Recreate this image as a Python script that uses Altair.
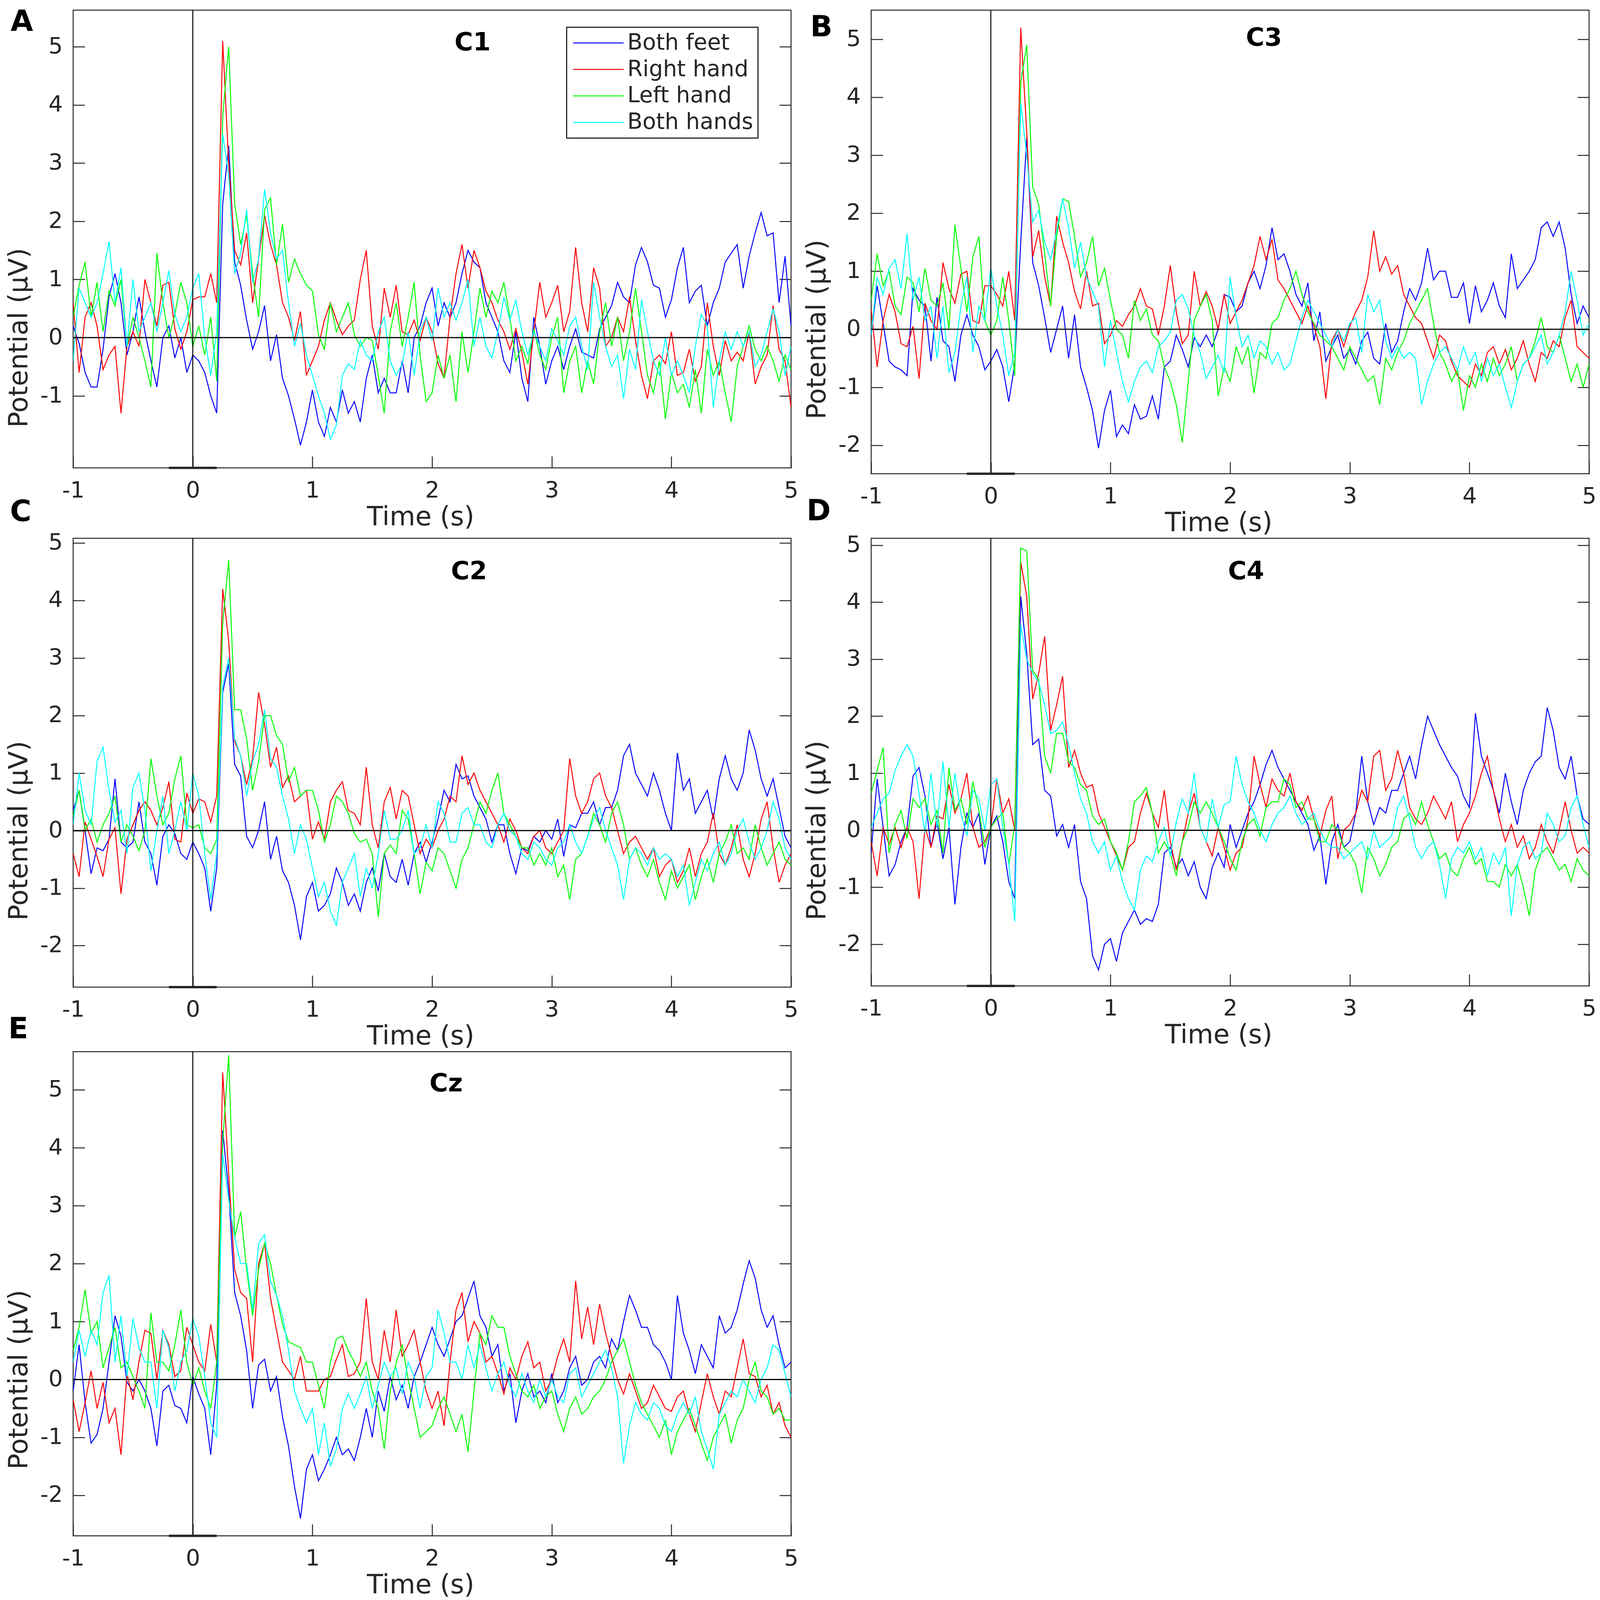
import altair as alt
import pandas as pd

# ---------------- data ----------------
times = [round(-1.0 + 0.05 * i, 2) for i in range(121)]
x_ticks = [-1, 0, 1, 2, 3, 4, 5]
x_domain = [-1, 5]
series_names = ["Both feet", "Right hand", "Left hand", "Both hands"]
series_colors = ["#0000FF", "#FF0000", "#00FF00", "#00FFFF"]
onset = [0]
baseline_window = [-0.2, 0.2]

# Panel A - C1
c1_feet = [0.2, -0.1, -0.6, -0.85, -0.85, -0.2, 0.7, 1.1, 0.6, -0.3, 0.1, 0.7, 0.1, -0.4, -0.85, 0.0, 0.2, -0.35, 0.0, -0.6,
           -0.3, -0.4, -0.6, -1.0, -1.3, 2.3, 3.3, 1.3, 0.9, 0.3, -0.2, 0.1, 0.55, -0.4, 0.05, -0.7, -1.0, -1.4, -1.85, -1.45,
           -0.9, -1.45, -1.7, -1.2, -1.45, -0.9, -1.3, -1.1, -1.45, -0.7, -0.3, -0.95, -0.7, -0.95, -0.95, -0.4, -0.95, 0.0, 0.2, 0.6,
           0.85, 0.2, 0.6, 0.35, 0.6, 1.1, 1.5, 1.3, 1.2, 0.6, 0.35, 0.1, -0.4, -0.6, 0.1, -0.7, -1.1, 0.35, -0.15, -0.8,
           -0.4, -0.15, -0.55, -0.15, 0.15, -0.25, -0.3, -0.35, 0.15, 0.35, 0.55, 0.95, 0.7, 0.6, 1.25, 1.55, 1.3, 0.9, 0.85, 0.35,
           0.65, 1.2, 1.55, 0.6, 0.8, 0.9, 0.2, 0.6, 0.85, 1.3, 1.45, 1.6, 0.85, 1.4, 1.8, 2.15, 1.75, 1.8, 0.6, 1.4,
           0.2]
c1_right = [0.6, -0.6, 0.35, 0.6, 0.2, -0.55, -0.3, -0.15, -1.3, -0.15, 0.1, -0.15, 1.0, 0.6, 0.2, 0.9, 0.95, 0.15, -0.2, 0.1,
            0.65, 0.7, 0.7, 1.1, 0.6, 5.1, 3.0, 1.5, 1.25, 1.8, 0.6, 1.35, 2.1, 1.6, 1.25, 0.6, 0.35, -0.05, 0.45, -0.65,
            -0.4, -0.15, 0.3, 0.6, 0.3, 0.05, 0.2, 0.3, 1.0, 1.5, 0.2, -0.2, 0.85, 0.35, 0.9, 0.1, 0.05, 0.3, -0.05, 0.35,
            0.1, -0.45, -0.7, 0.35, 1.1, 1.6, 0.85, 1.5, 1.2, 0.8, 0.6, 0.3, 0.1, -0.2, 0.15, -0.25, -0.8, 0.1, 0.95, 0.35,
            0.6, 0.9, 0.1, 0.45, 1.55, 0.6, 0.1, 1.2, 0.85, -0.15, 0.0, 0.35, 0.1, 0.7, -0.05, -0.65, -1.05, -0.4, -0.3, -0.45,
            0.1, -0.65, -0.6, -0.2, -0.75, -0.5, 0.6, -0.15, -0.65, -0.05, -0.4, -0.25, -0.4, 0.1, -0.8, -0.5, -0.3, 0.55, -0.2, -0.4,
            -1.2]
c1_left = [0.35, 0.9, 1.3, 0.35, 0.95, 0.1, 0.8, 0.55, 1.0, -0.15, 0.35, 0.0, -0.4, -0.85, 1.45, 0.6, 0.0, 0.4, 0.95, 0.6,
           -0.15, 0.2, -0.3, 0.35, -0.75, 3.8, 5.0, 2.3, 1.6, 2.1, 1.1, 0.35, 2.2, 2.4, 1.25, 1.95, 0.95, 1.35, 1.1, 0.9,
           0.8, 0.05, -0.2, 0.6, 0.1, 0.35, 0.6, 0.05, -0.15, 0.0, -0.05, -0.65, -1.3, 0.1, 0.6, -0.15, 0.35, 0.95, -0.3, -1.1,
           -0.95, -0.3, -0.7, -0.3, -1.1, 0.1, -0.6, 0.1, 0.85, 0.35, 0.8, 0.6, 0.95, 0.35, -0.4, -0.15, -0.45, 0.15, -0.3, -0.55,
           0.0, 0.35, -0.95, -0.4, -0.15, -0.95, -0.4, -0.8, 0.1, 0.6, -0.15, 0.35, -0.4, 0.1, 0.85, 0.1, -0.65, -0.95, -0.4, -1.4,
           -0.6, -0.95, -0.8, -1.2, -0.55, -1.3, -0.2, -0.65, -0.4, -0.95, -1.45, -0.5, -0.15, 0.2, -0.2, -0.4, -0.15, -0.4, -0.75, -0.3,
           -0.55]
c1_both = [-0.4, 0.85, 0.6, 0.35, 0.6, 1.1, 1.65, 0.6, 1.2, -0.15, 1.0, 0.1, 0.35, 0.6, 0.1, 0.6, 1.15, 0.4, 0.1, 0.35,
           0.85, 1.1, 0.0, -0.65, 0.1, 3.5, 2.8, 1.1, 1.45, 2.2, 0.95, 1.35, 2.55, 1.8, 1.35, 1.5, 0.6, -0.15, 0.25, -0.3,
           -0.65, -1.0, -1.3, -1.75, -1.5, -0.65, -0.45, -0.55, -0.05, -0.3, -0.4, 0.1, 0.35, -0.4, -0.65, -0.45, 0.1, -0.65, 0.1, 0.35,
           -0.05, 0.85, 0.35, 0.6, 0.3, 0.6, 1.0, -0.15, 0.35, -0.15, -0.35, 0.1, 0.7, 0.3, 0.65, 0.1, -0.3, 0.1, -0.15, -0.4,
           0.15, -0.05, -0.3, 0.2, 0.35, -0.15, -0.55, 0.95, 0.35, -0.15, -0.5, -0.3, -1.05, -0.2, -0.55, 0.65, 0.1, -0.4, -0.65, 0.0,
           -0.65, -0.4, -0.65, -0.95, -0.15, 0.4, 0.2, -1.2, -0.4, 0.1, -0.2, 0.1, -0.15, 0.1, -0.5, -0.3, 0.1, 0.5, 0.1, -0.65,
           -0.15]

# Panel B - C3
c3_feet = [-0.1, 0.75, 0.1, -0.55, -0.65, -0.7, -0.8, 0.7, 0.5, 0.4, -0.55, 0.55, -0.2, -0.3, -0.9, -0.1, 0.25, -0.1, -0.3, -0.7,
           -0.55, -0.35, -0.65, -1.25, -0.6, 1.5, 3.3, 1.15, 0.75, 0.2, -0.4, 0.0, 0.4, -0.5, 0.25, -0.65, -1.0, -1.4, -2.05, -1.4,
           -1.05, -1.85, -1.65, -1.8, -1.3, -1.55, -1.5, -1.15, -1.55, -0.65, -0.55, -0.1, -0.35, -0.65, -0.15, -0.3, -0.1, -0.3, 0.0, 0.6,
           0.55, 0.3, 0.4, 0.8, 1.0, 0.7, 1.1, 1.75, 1.2, 1.3, 1.0, 0.6, 0.4, 0.8, -0.2, 0.3, -0.55, -0.3, -0.1, -0.5,
           -0.35, -0.6, -0.2, -0.05, -0.5, -0.6, 0.1, -0.4, -0.2, 0.3, 0.7, 0.5, 0.8, 1.4, 0.85, 1.0, 1.0, 0.55, 0.55, 0.8,
           0.1, 0.75, 0.3, 0.5, 0.8, 0.4, 0.2, 1.3, 0.7, 0.85, 1.0, 1.2, 1.75, 1.85, 1.6, 1.85, 1.4, 0.6, 0.1, 0.4,
           0.2]
c3_right = [0.35, -0.65, 0.15, 0.6, 0.3, -0.25, -0.3, 0.05, -0.85, 0.45, 0.15, 0.0, 1.15, 0.7, 0.45, 0.95, 1.0, 0.15, 0.1, 0.75,
            0.75, 0.6, 0.4, 1.0, 0.15, 5.2, 3.4, 1.25, 1.7, 0.9, 0.4, 1.95, 1.5, 1.15, 0.65, 0.35, 1.0, 0.4, 0.45, -0.25,
            -0.1, 0.15, 0.05, 0.25, 0.4, 0.7, 0.4, 0.35, -0.1, 0.4, 1.1, 0.3, -0.25, -0.1, 1.0, 0.4, 0.65, 0.4, 0.0, 0.6,
            0.1, 0.3, 0.5, 0.8, 1.1, 1.6, 1.2, 1.55, 0.85, 0.7, 0.5, 0.3, 0.1, 0.4, 0.05, -0.3, -1.2, -0.2, 0.0, -0.3,
            0.05, 0.3, 0.5, 0.9, 1.7, 1.0, 1.25, 0.95, 1.1, 0.6, 0.4, 0.2, 0.1, -0.2, -0.5, -0.1, -0.2, -0.55, -0.8, -0.9,
            -1.0, -0.6, -0.8, -0.4, -0.3, -0.6, -0.35, -0.7, -0.5, -0.2, -0.6, -0.9, -0.4, -0.5, -0.2, -0.3, 0.2, 0.5, -0.3, -0.4,
            -0.5]
c3_left = [0.5, 1.3, 0.75, 1.0, 0.4, 0.25, 0.9, 0.8, 0.3, 1.05, 0.5, 0.4, 0.8, 0.0, 1.8, 1.05, 0.3, 1.25, 1.6, 0.15,
           -0.1, 0.15, 0.9, 0.15, -0.8, 4.25, 4.9, 2.45, 2.15, 1.3, 0.4, 1.6, 2.25, 2.2, 1.6, 0.9, 1.15, 1.6, 0.75, 1.05,
           0.5, 0.0, -0.1, -0.5, 0.5, 0.15, 0.35, -0.1, -0.2, -0.65, -0.9, -1.3, -1.95, -0.9, 0.15, 0.4, 0.6, 0.15, -1.15, -0.65,
           -0.9, -0.3, -0.6, -0.3, -1.1, -0.4, -0.5, 0.1, 0.2, 0.5, 0.7, 1.0, 0.6, 0.3, 0.1, -0.1, -0.2, -0.3, -0.5, -0.7,
           -0.3, -0.5, -0.7, -0.9, -0.8, -1.3, -0.5, -0.7, -0.4, -0.2, 0.1, 0.3, 0.5, 0.7, 0.1, -0.4, -0.6, -0.9, -0.7, -1.4,
           -0.8, -1.0, -0.6, -0.9, -0.5, -0.8, -0.6, -0.3, -0.9, -0.6, -0.5, -0.2, 0.2, -0.3, -0.4, -0.1, -0.5, -0.9, -0.6, -1.0,
           -0.6]
c3_both = [-0.1, 0.9, 0.6, 1.05, 1.2, 0.7, 1.65, 0.5, 0.9, 0.15, 0.4, -0.5, 0.4, -0.75, -0.4, 0.4, 0.9, -0.4, 0.4, 0.15,
           1.05, 0.4, -0.1, -0.8, -0.4, 3.9, 3.0, 1.85, 2.05, 1.5, 1.2, 1.7, 2.25, 1.75, 1.05, 1.5, 0.9, 0.65, 0.4, -0.65,
           0.15, -0.4, -0.9, -1.25, -0.9, -0.65, -0.55, -0.75, -0.3, -0.2, -0.05, 0.5, 0.6, 0.35, -0.1, -0.4, -0.85, -0.65, -0.45, -0.75,
           0.9, 0.2, -0.3, -0.1, -0.5, -0.2, -0.3, -0.6, -0.4, -0.7, -0.6, -0.2, 0.2, 0.5, 0.3, 0.1, -0.1, -0.3, 0.0, -0.2,
           0.1, 0.2, -0.4, 0.6, 0.3, 0.5, -0.2, -0.5, -0.3, -0.5, -0.4, -0.5, -1.3, -0.9, -0.6, -0.4, -0.3, -0.5, -0.7, -0.3,
           -0.6, -0.4, -0.9, -0.5, -0.8, -0.6, -1.0, -1.35, -0.9, -0.6, -0.5, -0.3, -0.1, -0.6, -0.4, -0.1, 0.3, 1.0, 0.5, -0.1,
           0.1]

# Panel C - C2
c2_feet = [0.35, 0.7, 0.0, -0.75, -0.3, -0.35, -0.15, 0.9, -0.2, -0.3, -0.2, 0.5, -0.2, -0.4, -0.95, -0.1, 0.1, -0.05, -0.4, -0.5,
           -0.2, -0.4, -0.65, -1.4, -0.65, 2.4, 2.9, 1.15, 0.95, -0.1, -0.3, 0.0, 0.5, -0.5, -0.1, -0.7, -0.9, -1.3, -1.9, -1.15,
           -0.9, -1.4, -1.3, -1.1, -0.65, -0.9, -1.3, -1.1, -1.4, -0.9, -0.65, -1.05, -0.4, -0.8, -0.9, -0.5, -0.95, -0.4, -0.2, -0.55,
           -0.2, 0.2, 0.7, 0.5, 1.15, 0.9, 0.95, 0.6, 0.4, 0.2, -0.2, 0.1, 0.1, -0.4, -0.75, -0.3, -0.35, -0.1, -0.2, 0.0,
           -0.15, 0.2, -0.45, 0.1, 0.05, 0.3, 0.3, 0.5, 0.1, 0.4, 0.4, 0.7, 1.3, 1.5, 1.0, 0.8, 0.6, 1.0, 0.7, 0.3,
           0.0, 1.35, 0.7, 0.9, 0.3, 0.5, 0.7, 0.2, 0.9, 1.3, 0.9, 0.7, 1.0, 1.75, 1.4, 0.9, 0.6, 0.9, 0.4, -0.1,
           -0.3]
c2_right = [-0.4, -0.8, 0.15, -0.15, -0.45, -0.8, -0.15, 0.05, -1.1, -0.15, 0.1, 0.35, 0.5, 0.35, 0.1, 0.4, 0.85, -0.15, -0.2, 0.65,
            0.3, 0.55, 0.5, 0.15, 0.6, 4.2, 3.3, 1.55, 1.3, 0.8, 1.25, 2.4, 1.85, 1.1, 1.45, 0.75, 0.95, 0.5, 0.6, 0.7,
            -0.15, 0.15, -0.15, 0.5, 0.7, 0.85, 0.35, 0.3, 0.1, 1.1, 0.1, -0.3, 0.5, 0.75, 0.2, 0.7, 0.6, 0.1, -0.4, -0.15,
            -0.3, 0.0, 0.2, 0.6, 0.5, 1.3, 0.8, 1.0, 0.7, 0.5, 0.3, 0.1, -0.2, 0.2, 0.0, -0.3, -0.4, -0.1, 0.0, -0.3,
            -0.4, -0.2, 0.0, 1.25, 0.6, 0.3, 0.5, 0.9, 1.0, 0.6, 0.4, 0.0, -0.4, -0.2, -0.1, -0.3, -0.5, -0.3, -0.8, -0.6,
            -0.5, -0.9, -0.7, -0.3, -0.8, -0.4, -0.2, 0.3, -0.4, -0.6, -0.3, 0.1, -0.5, -0.8, -0.4, 0.2, 0.5, -0.3, -0.9, -0.6,
            -0.4]
c2_left = [0.25, 0.7, 0.0, 0.2, -0.2, 0.1, 0.3, 0.6, -0.2, 0.1, -0.1, -0.35, 0.0, 1.25, 0.6, 0.1, 0.3, 0.9, 1.3, 0.1,
           0.05, 0.1, -0.3, -0.4, -0.15, 3.6, 4.7, 2.1, 2.1, 1.6, 0.7, 1.2, 2.0, 2.0, 1.65, 1.5, 0.85, 1.1, 0.6, 0.7,
           0.7, 0.35, -0.2, 0.1, 0.6, 0.5, 0.3, -0.05, -0.2, -0.15, -0.4, -1.5, -0.4, -0.25, -0.4, 0.35, 0.2, -0.4, -1.1, -0.55,
           -0.7, -0.3, -0.4, -0.7, -1.0, -0.5, -0.3, 0.1, 0.5, 0.3, 0.7, 1.0, 0.3, 0.1, -0.1, -0.3, -0.3, -0.6, -0.4, -0.6,
           -0.3, -0.8, -0.6, -1.2, -0.5, -0.4, -0.1, 0.3, 0.1, -0.2, 0.3, 0.5, 0.1, -0.5, -0.3, -0.6, -0.8, -0.5, -0.9, -1.2,
           -0.7, -1.0, -0.8, -0.6, -1.2, -0.8, -0.5, -0.9, -0.4, -0.2, 0.1, -0.4, -0.3, -0.5, 0.1, -0.3, -0.6, -0.4, -0.2, -0.5,
           -0.6]
c2_both = [0.1, 1.0, 0.35, 0.1, 1.2, 1.45, 0.7, 0.15, 0.35, -0.4, 0.75, 1.0, 0.35, -0.7, 0.0, 0.6, -0.4, 0.0, 0.5, 0.0,
           1.0, 0.6, -0.4, -1.2, -0.4, 2.5, 3.0, 1.6, 1.3, 0.6, 1.2, 1.5, 2.1, 1.25, 1.1, 0.6, 0.2, -0.4, 0.1, -0.15,
           -0.65, -1.15, -0.9, -1.4, -1.65, -0.9, -0.65, -0.4, -1.15, -0.65, -1.0, -0.4, 0.35, -0.15, -0.15, 0.0, 0.35, -0.4, -0.3, 0.1,
           -0.3, 0.5, 0.3, -0.2, -0.2, 0.3, 0.4, 0.1, 0.1, -0.2, -0.3, 0.1, 0.3, 0.0, -0.1, -0.4, -0.5, -0.2, -0.3, -0.5,
           -0.6, -0.3, -0.2, 0.1, -0.2, -0.4, -0.1, 0.2, 0.4, 0.0, -0.3, -0.6, -1.2, -0.5, -0.3, -0.4, -0.6, -0.3, -0.5, -0.4,
           -0.5, -0.8, -0.6, -1.3, -0.9, -0.5, -0.7, -0.4, -0.2, -0.6, -0.4, 0.0, 0.2, -0.2, -0.5, -0.3, 0.0, 0.5, 0.2, -0.3,
           -0.5]

# Panel D - C4
c4_feet = [-0.4, 0.9, 0.05, -0.8, -0.6, -0.2, 0.05, 0.95, 1.1, 0.6, -0.3, 0.15, -0.5, 0.05, -1.3, -0.3, 0.3, 0.05, 0.3, -0.6,
           0.05, 0.25, -0.2, -0.9, -1.2, 4.1, 3.1, 1.5, 1.6, 0.7, 0.6, -0.1, 0.1, -0.3, 0.1, -0.9, -1.2, -2.2, -2.45, -2.0,
           -1.9, -2.3, -1.8, -1.6, -1.4, -1.65, -1.55, -1.6, -1.3, -0.4, -0.3, -0.65, -0.5, -0.8, -0.55, -1.0, -1.2, -0.65, -0.4, -0.65,
           0.1, -0.3, 0.0, 0.3, 0.5, 0.8, 1.15, 1.4, 1.1, 0.9, 0.7, 0.5, 0.3, 0.1, -0.35, -0.1, -0.95, -0.2, 0.1, -0.3,
           -0.2, 0.3, 1.3, 0.5, 0.1, 0.4, 0.3, 0.7, 0.7, 1.0, 1.3, 0.9, 1.5, 2.0, 1.75, 1.5, 1.3, 1.1, 0.95, 0.6,
           0.4, 2.05, 1.3, 1.0, 0.7, 0.3, 1.0, 0.5, 0.1, 0.7, 1.0, 1.2, 1.3, 2.15, 1.75, 1.1, 0.9, 1.3, 0.6, 0.2,
           0.1]
c4_right = [-0.2, -0.8, 0.05, -0.25, 0.05, -0.3, 0.05, -0.2, -1.2, 0.05, -0.3, 0.25, 0.2, 0.8, 0.3, 0.55, 1.0, 0.05, -0.3, -0.2,
            0.05, 0.9, 0.3, 0.55, 0.0, 4.7, 4.1, 2.3, 2.75, 3.4, 1.75, 2.2, 2.7, 1.1, 1.4, 1.0, 0.75, 0.8, 0.3, 0.05,
            -0.2, -0.45, -0.7, -0.3, -0.2, 0.3, 0.65, 0.3, 0.05, 0.7, -0.2, -0.7, -0.2, 0.3, 0.65, 0.05, -0.2, -0.45, 0.05, -0.3,
            -0.7, -0.4, -0.3, 0.2, 1.3, 0.8, 0.4, 0.9, 0.7, 0.6, 1.0, 0.5, 0.35, 0.6, 0.2, -0.1, 0.35, 0.6, -0.5, 0.0,
            0.1, 0.3, 0.7, 0.5, 1.3, 1.4, 0.7, 0.9, 1.4, 1.0, 0.4, 0.2, 0.1, 0.3, 0.6, 0.4, 0.2, 0.5, -0.2, 0.1,
            0.3, 0.6, 1.0, 1.3, 0.7, 0.2, -0.2, 0.1, -0.3, -0.1, -0.5, -0.3, 0.1, -0.2, -0.4, 0.0, 0.5, 0.0, -0.4, -0.3,
            -0.4]
c4_left = [0.65, 1.05, 1.45, -0.4, 0.1, 0.35, -0.15, 0.55, 0.4, 0.55, 0.1, 0.35, -0.4, 1.1, 0.35, 0.55, 0.1, 0.85, 0.35, -0.3,
           0.05, 0.2, 0.3, -0.6, 0.1, 4.95, 4.9, 2.8, 2.65, 1.3, 1.0, 1.7, 1.7, 1.2, 1.1, 0.8, 0.7, 0.25, 0.1, 0.2,
           -0.2, -0.4, -0.7, -0.2, 0.5, 0.6, 0.75, 0.3, -0.4, -0.2, -0.4, -0.8, -0.2, 0.05, 0.5, 0.3, 0.5, 0.3, 0.05, -0.2,
           -0.5, -0.7, -0.2, 0.1, 0.2, -0.1, 0.4, 0.5, 0.5, 0.9, 0.8, 0.4, 0.5, 0.2, 0.2, -0.2, -0.2, 0.1, 0.0, -0.3,
           -0.4, -0.6, -1.1, -0.3, -0.5, -0.8, -0.6, -0.3, -0.2, 0.2, 0.3, 0.1, 0.5, 0.1, -0.2, -0.5, -0.4, -0.7, -0.8, -0.5,
           -0.3, -0.6, -0.5, -0.9, -0.9, -1.0, -0.6, -0.8, -0.6, -1.0, -1.5, -0.7, -0.4, -0.3, -0.5, -0.7, -0.6, -0.9, -0.5, -0.7,
           -0.8]
c4_both = [0.05, 0.3, 0.55, 0.65, 1.05, 1.3, 1.5, 1.3, 0.65, -0.05, 1.0, 0.05, 1.2, 0.05, 1.0, 0.3, -0.1, 0.7, 0.55, 0.0,
           0.8, 0.9, 0.05, -0.6, -1.6, 3.6, 3.0, 2.75, 2.6, 2.2, 1.7, 1.75, 1.9, 1.5, 1.0, 0.55, 0.3, -0.2, -0.4, -0.2,
           -0.7, -0.45, -0.9, -1.2, -1.4, -0.7, -0.45, -0.55, -0.2, 0.05, -0.45, 0.15, 0.55, 0.3, 1.0, 0.05, -0.2, 0.55, 0.05, 0.45,
           0.5, 1.3, 0.8, 0.5, 0.3, 0.0, -0.2, 0.1, 0.3, 0.4, 0.6, 0.3, 0.1, 0.2, 0.3, 0.0, -0.2, -0.3, -0.3, -0.5,
           -0.4, -0.3, -0.2, -0.5, 0.0, -0.3, -0.2, -0.1, 0.4, 0.6, 0.2, -0.3, -0.5, -0.3, -0.2, -0.6, -1.2, -0.5, -0.3, -0.4,
           -0.2, -0.5, -0.3, -0.8, -0.4, -0.6, -0.3, -1.5, -0.6, -0.3, -0.2, -0.5, -0.4, 0.3, 0.1, -0.2, -0.1, 0.4, 0.6, 0.1,
           -0.3]

# Panel E - Cz
cz_feet = [-0.2, 0.6, -0.4, -1.1, -0.95, -0.5, 0.3, 1.1, 0.75, -0.05, -0.2, 0.0, -0.2, -0.5, -1.15, -0.2, -0.1, -0.45, -0.5, -0.75,
           0.05, -0.25, -0.5, -1.3, -0.1, 4.3, 3.25, 1.5, 1.1, 0.5, -0.5, 0.25, 0.35, -0.2, 0.05, -0.65, -1.15, -1.85, -2.4, -1.55,
           -1.3, -1.75, -1.55, -1.3, -1.0, -1.3, -1.2, -1.4, -1.0, -0.5, -1.0, -0.2, -0.55, 0.05, -0.35, -0.1, -0.5, 0.05, 0.3, 0.6,
           0.9, 0.6, 0.4, 0.7, 1.0, 1.1, 1.4, 1.7, 1.1, 0.9, 0.4, 0.6, -0.2, 0.1, -0.75, -0.2, 0.1, -0.3, -0.2, -0.4,
           0.1, -0.4, -0.2, 0.2, 0.4, -0.1, 0.0, 0.3, 0.4, 0.2, 0.7, 0.5, 1.0, 1.45, 1.2, 0.9, 0.9, 0.6, 0.5, 0.3,
           0.0, 1.45, 0.8, 0.5, 0.1, 0.6, 0.4, 0.2, 1.1, 0.8, 0.9, 1.2, 1.65, 2.05, 1.75, 1.2, 0.9, 1.1, 0.6, 0.2,
           0.3]
cz_right = [-0.35, -0.9, -0.4, 0.15, -0.5, -0.05, -0.75, -0.5, -1.3, 0.1, -0.35, 0.3, 0.85, 0.8, 0.0, 0.85, 0.6, 0.05, 0.15, 0.9,
            0.6, 0.3, 0.15, 0.95, 0.3, 5.3, 3.55, 1.9, 1.5, 1.4, 0.3, 2.0, 2.35, 1.4, 0.85, 0.3, 0.15, 0.0, 0.4, -0.2,
            -0.2, -0.2, 0.0, 0.05, 0.35, 0.6, 0.05, 0.1, 0.3, 1.4, 0.3, 0.0, 0.85, 0.3, 1.2, 0.4, 0.6, 0.85, 0.3, -0.2,
            -0.5, -0.2, -0.8, 0.3, 1.2, 1.5, 0.65, 1.0, 0.8, 0.3, 0.4, 0.1, -0.25, 0.2, 0.0, 0.4, 0.65, 0.2, 0.3, -0.2,
            0.0, 0.4, 0.7, 0.3, 1.7, 0.7, 1.25, 0.6, 1.3, 0.8, 0.4, 0.0, -0.25, 0.1, -0.2, -0.5, -0.4, -0.1, -0.3, -0.5,
            -0.55, -0.3, -0.2, -0.6, -0.9, -0.4, 0.1, -0.3, -0.6, -0.2, -0.3, 0.2, 0.7, 0.1, 0.05, -0.3, -0.1, -0.6, -0.4, -0.8,
            -1.0]
cz_left = [0.5, 0.9, 1.55, 0.8, 1.0, 0.2, 0.55, 0.9, 0.2, 0.3, 0.05, -0.2, -0.5, 1.15, 0.3, 0.3, 0.15, 0.6, 1.2, 0.3,
           -0.1, 0.2, -0.2, -0.5, 0.3, 4.1, 5.6, 2.45, 2.9, 1.9, 1.1, 1.9, 2.35, 2.0, 1.45, 0.95, 0.65, 0.6, 0.55, 0.3,
           0.3, -0.1, -0.5, 0.3, 0.7, 0.75, 0.5, 0.3, 0.05, 0.3, -0.2, -0.5, -1.2, -0.2, 0.3, 0.6, 0.0, -0.5, -1.0, -0.9,
           -0.8, -0.5, -0.3, -0.6, -0.9, -0.6, -1.25, -0.2, 0.8, 0.6, 1.1, 0.9, 0.9, 0.4, 0.1, -0.2, -0.3, -0.1, -0.5, -0.3,
           -0.2, -0.6, -0.9, -0.5, -0.3, -0.6, -0.5, -0.3, -0.2, 0.0, 0.3, 0.5, 0.7, 0.3, -0.1, -0.4, -0.6, -0.8, -1.0, -0.7,
           -1.3, -0.9, -0.7, -0.5, -0.8, -1.1, -1.4, -1.0, -0.8, -0.6, -1.1, -0.7, -0.5, 0.0, 0.3, -0.2, -0.3, -0.6, -0.5, -0.7,
           -0.7]
cz_both = [0.3, 0.85, 0.4, 0.85, 0.6, 1.5, 1.8, 0.3, 1.1, 0.05, 1.05, 0.55, 0.3, 0.3, -0.5, 0.85, 0.55, -0.2, 0.3, 0.5,
           1.05, 0.75, 0.05, -0.75, -1.0, 3.9, 3.1, 2.45, 2.0, 2.0, 1.2, 2.35, 2.5, 1.7, 1.45, 1.1, 0.5, -0.2, -0.5, -0.75,
           -0.5, -1.3, -0.75, -1.5, -1.2, -0.5, -0.25, -0.5, -0.25, 0.05, -0.5, -0.1, 0.3, 0.05, 0.2, -0.25, 0.3, 0.05, -0.5, 0.05,
           0.2, 1.2, 0.8, 0.3, 0.3, 0.0, 0.6, 0.2, 0.6, 0.2, -0.2, 0.1, 0.3, -0.1, -0.3, 0.1, -0.2, -0.4, 0.0, -0.3,
           0.0, -0.3, -0.4, 0.1, 0.2, -0.3, -0.1, 0.1, 0.3, 0.5, 0.2, -0.3, -1.45, -0.8, -0.4, -0.6, -0.7, -0.4, -0.5, -0.8,
           -0.9, -0.6, -0.4, -0.6, -0.3, -0.9, -1.2, -1.55, -0.6, -0.4, -0.2, -0.3, 0.0, -0.2, -0.4, 0.0, 0.2, 0.6, 0.5, 0.1,
           -0.3]

panel_letters = ["A", "B", "C", "D", "E"]
panel_titles = ["C1", "C3", "C2", "C4", "Cz"]
panel_values = [
    [c1_feet, c1_right, c1_left, c1_both],
    [c3_feet, c3_right, c3_left, c3_both],
    [c2_feet, c2_right, c2_left, c2_both],
    [c4_feet, c4_right, c4_left, c4_both],
    [cz_feet, cz_right, cz_left, cz_both],
]
panel_ylims = [[-2.24, 5.63], [-2.49, 5.5], [-2.72, 5.08], [-2.73, 5.12], [-2.70, 5.66]]
panel_yticks = [
    [-1, 0, 1, 2, 3, 4, 5],
    [-2, -1, 0, 1, 2, 3, 4, 5],
    [-2, -1, 0, 1, 2, 3, 4, 5],
    [-2, -1, 0, 1, 2, 3, 4, 5],
    [-2, -1, 0, 1, 2, 3, 4, 5],
]

for group in panel_values:
    for s in group:
        assert len(s) == len(times), len(s)

# ---------------- styling / layout (pixels) ----------------
W = 1846
panel_heights = [1177, 1192, 1154, 1151, 1245]
title_pos = [(1027, 83), (1010, 71), (1018, 85), (964, 85), (959, 82)]
letter_pos = [(-132, 30), (-128, 44), (-135, -67), (-135, -69), (-141, -57)]
TL = 30
FONT = "DejaVu Sans"
AX = "#262626"
TICK_FS = 58
TITLE_FS = 68


def make_panel(i):
    H = panel_heights[i]
    lo, hi = panel_ylims[i]
    rows = []
    for sname, vals in zip(series_names, panel_values[i]):
        for t, v in zip(times, vals):
            rows.append({"t": t, "v": v, "series": sname})
    df = pd.DataFrame(rows)

    xs = alt.Scale(domain=x_domain, nice=False, zero=False)
    ys = alt.Scale(domain=[lo, hi], nice=False, zero=False)
    zero_px = H * hi / (hi - lo)

    x_axis = alt.Axis(orient="bottom", values=x_ticks, title="Time (s)", offset=-TL, tickSize=TL,
                      tickWidth=2.5, tickColor=AX, domain=False, grid=False, labelFlush=False,
                      labelOverlap=False, labelFont=FONT, labelFontSize=TICK_FS, labelColor=AX,
                      labelPadding=30, labelExpr="'' + datum.value", titleFont=FONT,
                      titleFontSize=TITLE_FS, titleFontWeight="normal", titleColor=AX,
                      titlePadding=5, titleX=W / 2 - 30)
    y_axis = alt.Axis(orient="left", values=panel_yticks[i], title="Potential (μV)", offset=-TL,
                      tickSize=TL, tickWidth=2.5, tickColor=AX, domain=False, grid=False,
                      labelFlush=False, labelOverlap=False, labelFont=FONT, labelFontSize=TICK_FS,
                      labelColor=AX, labelPadding=27, labelExpr="'' + datum.value", titleFont=FONT,
                      titleFontSize=TITLE_FS, titleFontWeight="normal", titleColor=AX,
                      titlePadding=19, titleY=zero_px)
    y_axis_right = alt.Axis(orient="right", values=panel_yticks[i], labels=False, title=None,
                            offset=-TL, tickSize=TL, tickWidth=2.5, tickColor=AX, domain=False,
                            grid=False)

    if i == 0:
        legend = alt.Legend(title=None, orient="none", legendX=1269, legendY=44,
                            direction="vertical", symbolType="M-5,0H5", symbolSize=676,
                            symbolStrokeWidth=2.5, symbolOffset=41, labelOffset=46,
                            labelFont=FONT, labelFontSize=57, labelColor=AX, labelLimit=700,
                            rowPadding=10, padding=12, strokeColor="black", fillColor="white",
                            cornerRadius=0)
    else:
        legend = None

    lines = alt.Chart(df).mark_line(strokeWidth=2.5, clip=True).encode(
        x=alt.X("t:Q", scale=xs, axis=x_axis),
        y=alt.Y("v:Q", scale=ys, axis=y_axis),
        color=alt.Color("series:N", scale=alt.Scale(domain=series_names, range=series_colors),
                        legend=legend),
    )

    hz_df = pd.DataFrame({"x0": [x_domain[0]], "x1": [x_domain[1]], "level": [0]})
    hzero = alt.Chart(hz_df).mark_rule(color="black", strokeWidth=3).encode(
        x=alt.X("x0:Q", scale=xs, axis=None),
        x2="x1:Q",
        y=alt.Y("level:Q", scale=ys, axis=y_axis_right),
    )

    vzero = alt.Chart(pd.DataFrame({"onset": onset})).mark_rule(color="black", strokeWidth=2.5).encode(
        x=alt.X("onset:Q", scale=xs, axis=None),
    )

    bar = alt.Chart(pd.DataFrame({"b0": [baseline_window[0]], "b1": [baseline_window[1]]})).mark_rule(
        color=AX, strokeWidth=6).encode(
        x=alt.X("b0:Q", scale=xs, axis=None),
        x2="b1:Q",
        y=alt.value(H),
    )

    tx, ty = title_pos[i]
    title = alt.Chart(pd.DataFrame({"label": [panel_titles[i]]})).mark_text(
        font=FONT, fontSize=65, fontWeight="bold", color="black", align="center",
        baseline="middle").encode(text="label:N", x=alt.value(tx), y=alt.value(ty))

    lx, ly = letter_pos[i]
    letter = alt.Chart(pd.DataFrame({"label": [panel_letters[i]]})).mark_text(
        font=FONT, fontSize=75, fontWeight="bold", color="black", align="center",
        baseline="middle").encode(text="label:N", x=alt.value(lx), y=alt.value(ly))

    return alt.layer(lines, hzero, vzero, bar, title, letter).resolve_axis(
        x="independent", y="independent").properties(width=W, height=H)


panels = [make_panel(i) for i in range(5)]

chart = alt.concat(*panels, columns=2, spacing={"row": 166, "column": 206}, bounds="flush",
                   align="each").resolve_scale(
    x="independent", y="independent").resolve_legend(color="independent").properties(
    padding={"left": 6, "top": 0, "right": 0, "bottom": 0}, background="white"
).configure_view(stroke=AX, strokeWidth=2.5).configure_legend(strokeWidth=2.5)

chart.save("out.html", embed_options={"renderer": "svg", "actions": False})
